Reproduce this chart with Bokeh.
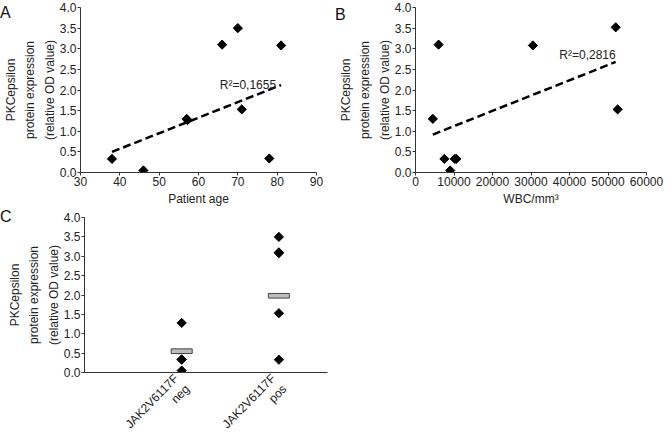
import numpy as np
from bokeh.plotting import figure
from bokeh.layouts import column, row
from bokeh.models import Div, FixedTicker, Range1d
from bokeh.embed import file_html
from bokeh.resources import INLINE

# Panel A: patient age vs PKCepsilon
age = [38, 46, 57, 57.2, 66, 70, 71, 78, 81]
age_expr = [0.33, 0.05, 1.30, 1.27, 3.10, 3.50, 1.53, 0.34, 3.08]
age_trend_x = [38, 81]
age_trend_y = [0.50, 2.12]
age_r2 = "R\u00b2=0,1655"

# Panel B: WBC vs PKCepsilon
wbc = [4500, 6000, 7500, 9000, 10200, 10600, 30500, 52000, 52500]
wbc_expr = [1.30, 3.10, 0.33, 0.05, 0.33, 0.33, 3.08, 3.52, 1.53]
wbc_trend_x = [4500, 52000]
wbc_trend_y = [0.92, 2.68]
wbc_r2 = "R\u00b2=0,2816"

# Panel C: JAK2 status
groups = ["JAK2V6117F\nneg", "JAK2V6117F\npos"]
group_pos = [1, 2]
neg_vals = [1.28, 0.34, 0.33, 0.05]
pos_vals = [3.50, 3.10, 3.08, 1.53, 0.33]
group_means = [0.55, 1.98]

panel_letters = ["A", "B", "C"]
y_ticks = [0.0, 0.5, 1.0, 1.5, 2.0, 2.5, 3.0, 3.5, 4.0]
ylabel = "PKCepsilon\nprotein expression\n(relative OD value)"

FONT = "Liberation Sans"
AX = "#333333"
TXT = "#222222"


def style(p):
    p.outline_line_color = None
    p.xgrid.visible = False
    p.ygrid.visible = False
    for ax in (p.xaxis[0], p.yaxis[0]):
        ax.axis_line_color = AX
        ax.major_tick_line_color = AX
        ax.minor_tick_line_color = None
        ax.major_tick_in = 0
        ax.major_tick_out = 3
        ax.major_label_standoff = 1
        ax.major_label_text_font = FONT
        ax.major_label_text_font_size = "12px"
        ax.major_label_text_color = TXT
        ax.axis_label_text_font = FONT
        ax.axis_label_text_font_size = "12px"
        ax.axis_label_text_font_style = "normal"
        ax.axis_label_text_color = TXT
        ax.axis_label_standoff = 3
    p.yaxis.ticker = FixedTicker(ticks=y_ticks)
    p.yaxis[0].major_label_overrides = {t: f"{t:.1f}" for t in y_ticks}
    p.yaxis.axis_label = ylabel
    p.yaxis.axis_label_text_line_height = 1.4
    p.yaxis.axis_label_standoff = 0
    p.y_range = Range1d(0, 4)


def letter(txt, fig_w, top, left_pad):
    return Div(text=txt, width=20, height=22,
               margin=(top, fig_w - 20 - left_pad, 0, -fig_w + left_pad),
               styles={"font-family": FONT, "font-size": "16px", "color": "#111111",
                       "line-height": "1"})


# ---- A
WA = 332
pA = figure(width=WA, height=208, output_backend="svg", toolbar_location=None,
            min_border_left=79, min_border_right=16, min_border_top=7, min_border_bottom=30,
            x_range=Range1d(30, 90))
style(pA)
pA.xaxis.ticker = FixedTicker(ticks=[30, 40, 50, 60, 70, 80, 90])
pA.xaxis.axis_label = "Patient age"
pA.line(age_trend_x, age_trend_y, line_color="black", line_width=2.5, line_dash="8 4")
pA.scatter(age, age_expr, marker="square", angle=np.pi / 4, size=6.5, color="black")
pA.text([age_trend_x[1]], [age_trend_y[1]], text=[age_r2], x_offset=-5, y_offset=7,
        text_align="right", text_baseline="bottom", text_font_size="12px",
        text_font={"value": FONT}, text_color=TXT)

# ---- B
WB = 331
pB = figure(width=WB, height=208, output_backend="svg", toolbar_location=None,
            min_border_left=83, min_border_right=17, min_border_top=7, min_border_bottom=30,
            x_range=Range1d(0, 60000))
style(pB)
pB.xaxis.ticker = FixedTicker(ticks=[0, 10000, 20000, 30000, 40000, 50000, 60000])
pB.xaxis.formatter.use_scientific = False
pB.xaxis.axis_label = "WBC/mm\u00b3"
pB.line(wbc_trend_x, wbc_trend_y, line_color="black", line_width=2.5, line_dash="8 4")
pB.scatter(wbc, wbc_expr, marker="square", angle=np.pi / 4, size=6.5, color="black")
pB.text([wbc_trend_x[1]], [wbc_trend_y[1]], text=[wbc_r2], x_offset=0, y_offset=0,
        text_align="right", text_baseline="bottom", text_font_size="12px",
        text_font={"value": FONT}, text_color=TXT)

# ---- C
WC = 340
pC = figure(width=WC, height=250, output_backend="svg", toolbar_location=None,
            min_border_left=84, min_border_right=13, min_border_top=9, min_border_bottom=86,
            x_range=Range1d(0, 2.5))
style(pC)
pC.xaxis.ticker = FixedTicker(ticks=group_pos)
pC.xaxis[0].major_label_overrides = {g: lab for g, lab in zip(group_pos, groups)}
pC.xaxis.major_label_orientation = 0.8
pC.xaxis.major_label_text_font_size = "12px"
pC.xaxis.major_label_text_line_height = 1.1
pC.xaxis.major_tick_out = 0
pC.xaxis.major_label_standoff = 9
pC.rect(group_pos, group_means, width=21, height=0.12, width_units="screen",
        fill_color="#bdbdbd", line_color="#444444", line_width=1)
pC.scatter([group_pos[0]] * len(neg_vals), neg_vals, marker="square", angle=np.pi / 4,
           size=6.5, color="black")
pC.scatter([group_pos[1]] * len(pos_vals), pos_vals, marker="square", angle=np.pi / 4,
           size=6.5, color="black")

top = row(pA, letter(panel_letters[0], WA, 5, 0), pB, letter(panel_letters[1], WB, 7, 3))
bottom = row(pC, letter(panel_letters[2], WC, 1, 0))
layout = column(top, bottom, styles={"max-height": "435px", "overflow": "hidden"})
open("out.html", "w").write(file_html(layout, INLINE))
